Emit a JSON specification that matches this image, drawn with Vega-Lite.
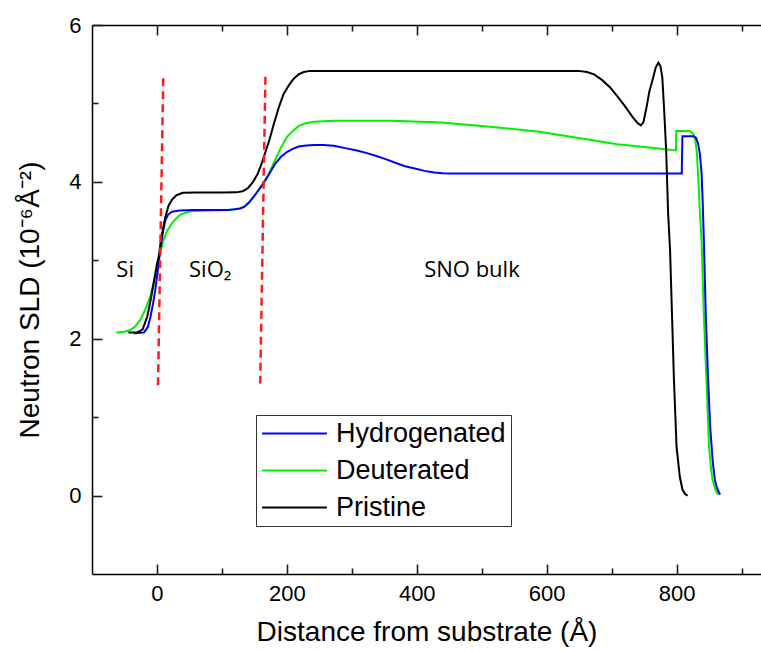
{
  "$schema": "https://vega.github.io/schema/vega-lite/v6.json",
  "width": 669,
  "height": 549,
  "autosize": {"type": "none"},
  "padding": {"left": 92, "top": 25, "right": 0, "bottom": 77},
  "config": {"view": {"stroke": null}, "font": "Liberation Sans", "background": "white",
    "axis": {"grid": false, "tickColor": "#1c1c1c", "tickWidth": 1.6, "domainColor": "#000000", "domainWidth": 1.5}},
  "datasets": {
    "sld": [
      {"series": "Pristine", "x": -44, "y": 2.08}, {"series": "Pristine", "x": -30, "y": 2.08}, {"series": "Pristine", "x": -22, "y": 2.12}, {"series": "Pristine", "x": -15, "y": 2.28}, {"series": "Pristine", "x": -10, "y": 2.48}, {"series": "Pristine", "x": -5, "y": 2.71}, {"series": "Pristine", "x": 0, "y": 2.95}, {"series": "Pristine", "x": 2.5, "y": 3.04}, {"series": "Pristine", "x": 7, "y": 3.3}, {"series": "Pristine", "x": 12.8, "y": 3.55}, {"series": "Pristine", "x": 18, "y": 3.7}, {"series": "Pristine", "x": 23, "y": 3.77}, {"series": "Pristine", "x": 30, "y": 3.83}, {"series": "Pristine", "x": 40, "y": 3.86}, {"series": "Pristine", "x": 60, "y": 3.865}, {"series": "Pristine", "x": 100, "y": 3.865}, {"series": "Pristine", "x": 122, "y": 3.866}, {"series": "Pristine", "x": 132, "y": 3.88}, {"series": "Pristine", "x": 140, "y": 3.92}, {"series": "Pristine", "x": 148, "y": 4.0}, {"series": "Pristine", "x": 155, "y": 4.1}, {"series": "Pristine", "x": 161, "y": 4.23}, {"series": "Pristine", "x": 167, "y": 4.38}, {"series": "Pristine", "x": 173, "y": 4.53}, {"series": "Pristine", "x": 180, "y": 4.74}, {"series": "Pristine", "x": 188, "y": 4.96}, {"series": "Pristine", "x": 195, "y": 5.12}, {"series": "Pristine", "x": 203, "y": 5.23}, {"series": "Pristine", "x": 210, "y": 5.31}, {"series": "Pristine", "x": 218, "y": 5.37}, {"series": "Pristine", "x": 226, "y": 5.4}, {"series": "Pristine", "x": 236, "y": 5.415}, {"series": "Pristine", "x": 400, "y": 5.415}, {"series": "Pristine", "x": 649, "y": 5.415}, {"series": "Pristine", "x": 662, "y": 5.4}, {"series": "Pristine", "x": 673, "y": 5.37}, {"series": "Pristine", "x": 685, "y": 5.3}, {"series": "Pristine", "x": 697, "y": 5.21}, {"series": "Pristine", "x": 709, "y": 5.09}, {"series": "Pristine", "x": 721, "y": 4.96}, {"series": "Pristine", "x": 733, "y": 4.82}, {"series": "Pristine", "x": 740, "y": 4.75}, {"series": "Pristine", "x": 745, "y": 4.72}, {"series": "Pristine", "x": 749, "y": 4.76}, {"series": "Pristine", "x": 754, "y": 4.96}, {"series": "Pristine", "x": 758, "y": 5.15}, {"series": "Pristine", "x": 763, "y": 5.3}, {"series": "Pristine", "x": 768, "y": 5.46}, {"series": "Pristine", "x": 772, "y": 5.52}, {"series": "Pristine", "x": 775, "y": 5.48}, {"series": "Pristine", "x": 778, "y": 5.34}, {"series": "Pristine", "x": 781, "y": 4.9}, {"series": "Pristine", "x": 784, "y": 4.4}, {"series": "Pristine", "x": 787, "y": 3.6}, {"series": "Pristine", "x": 790, "y": 3.13}, {"series": "Pristine", "x": 793, "y": 2.3}, {"series": "Pristine", "x": 796, "y": 1.47}, {"series": "Pristine", "x": 800, "y": 0.62}, {"series": "Pristine", "x": 805, "y": 0.24}, {"series": "Pristine", "x": 809, "y": 0.08}, {"series": "Pristine", "x": 813, "y": 0.02}, {"series": "Pristine", "x": 817, "y": 0.0},
      {"series": "Deuterated", "x": -62.6, "y": 2.08}, {"series": "Deuterated", "x": -50, "y": 2.09}, {"series": "Deuterated", "x": -41, "y": 2.11}, {"series": "Deuterated", "x": -33, "y": 2.16}, {"series": "Deuterated", "x": -25.7, "y": 2.24}, {"series": "Deuterated", "x": -18, "y": 2.37}, {"series": "Deuterated", "x": -10.3, "y": 2.54}, {"series": "Deuterated", "x": -5, "y": 2.72}, {"series": "Deuterated", "x": 0, "y": 2.92}, {"series": "Deuterated", "x": 5, "y": 3.1}, {"series": "Deuterated", "x": 10.3, "y": 3.26}, {"series": "Deuterated", "x": 16, "y": 3.38}, {"series": "Deuterated", "x": 23, "y": 3.47}, {"series": "Deuterated", "x": 29, "y": 3.53}, {"series": "Deuterated", "x": 35.8, "y": 3.58}, {"series": "Deuterated", "x": 45, "y": 3.61}, {"series": "Deuterated", "x": 56, "y": 3.63}, {"series": "Deuterated", "x": 80, "y": 3.636}, {"series": "Deuterated", "x": 110, "y": 3.64}, {"series": "Deuterated", "x": 120, "y": 3.65}, {"series": "Deuterated", "x": 128, "y": 3.66}, {"series": "Deuterated", "x": 134, "y": 3.68}, {"series": "Deuterated", "x": 141, "y": 3.73}, {"series": "Deuterated", "x": 149, "y": 3.81}, {"series": "Deuterated", "x": 156, "y": 3.89}, {"series": "Deuterated", "x": 164, "y": 3.99}, {"series": "Deuterated", "x": 172, "y": 4.1}, {"series": "Deuterated", "x": 182, "y": 4.28}, {"series": "Deuterated", "x": 191, "y": 4.44}, {"series": "Deuterated", "x": 200, "y": 4.57}, {"series": "Deuterated", "x": 209, "y": 4.65}, {"series": "Deuterated", "x": 218, "y": 4.71}, {"series": "Deuterated", "x": 230, "y": 4.75}, {"series": "Deuterated", "x": 242, "y": 4.765}, {"series": "Deuterated", "x": 272, "y": 4.78}, {"series": "Deuterated", "x": 360, "y": 4.78}, {"series": "Deuterated", "x": 439, "y": 4.757}, {"series": "Deuterated", "x": 529, "y": 4.69}, {"series": "Deuterated", "x": 589, "y": 4.64}, {"series": "Deuterated", "x": 649, "y": 4.56}, {"series": "Deuterated", "x": 709, "y": 4.48}, {"series": "Deuterated", "x": 769, "y": 4.43}, {"series": "Deuterated", "x": 799, "y": 4.4}, {"series": "Deuterated", "x": 799.5, "y": 4.65}, {"series": "Deuterated", "x": 820, "y": 4.65}, {"series": "Deuterated", "x": 825, "y": 4.62}, {"series": "Deuterated", "x": 828, "y": 4.57}, {"series": "Deuterated", "x": 831, "y": 4.4}, {"series": "Deuterated", "x": 833, "y": 4.11}, {"series": "Deuterated", "x": 836, "y": 3.6}, {"series": "Deuterated", "x": 838.5, "y": 3.26}, {"series": "Deuterated", "x": 842, "y": 2.3}, {"series": "Deuterated", "x": 846, "y": 1.47}, {"series": "Deuterated", "x": 850, "y": 0.62}, {"series": "Deuterated", "x": 853, "y": 0.35}, {"series": "Deuterated", "x": 855.4, "y": 0.2}, {"series": "Deuterated", "x": 860, "y": 0.07}, {"series": "Deuterated", "x": 864, "y": 0.01},
      {"series": "Hydrogenated", "x": -36, "y": 2.07}, {"series": "Hydrogenated", "x": -20, "y": 2.08}, {"series": "Hydrogenated", "x": -14, "y": 2.15}, {"series": "Hydrogenated", "x": -10, "y": 2.28}, {"series": "Hydrogenated", "x": -6, "y": 2.45}, {"series": "Hydrogenated", "x": -2.6, "y": 2.62}, {"series": "Hydrogenated", "x": 1, "y": 2.85}, {"series": "Hydrogenated", "x": 5, "y": 3.13}, {"series": "Hydrogenated", "x": 9, "y": 3.35}, {"series": "Hydrogenated", "x": 12.8, "y": 3.51}, {"series": "Hydrogenated", "x": 17, "y": 3.58}, {"series": "Hydrogenated", "x": 23, "y": 3.62}, {"series": "Hydrogenated", "x": 35, "y": 3.635}, {"series": "Hydrogenated", "x": 54, "y": 3.64}, {"series": "Hydrogenated", "x": 110, "y": 3.64}, {"series": "Hydrogenated", "x": 120, "y": 3.65}, {"series": "Hydrogenated", "x": 128, "y": 3.66}, {"series": "Hydrogenated", "x": 134, "y": 3.68}, {"series": "Hydrogenated", "x": 141, "y": 3.73}, {"series": "Hydrogenated", "x": 149, "y": 3.81}, {"series": "Hydrogenated", "x": 156, "y": 3.89}, {"series": "Hydrogenated", "x": 164, "y": 3.98}, {"series": "Hydrogenated", "x": 172, "y": 4.09}, {"series": "Hydrogenated", "x": 182, "y": 4.23}, {"series": "Hydrogenated", "x": 191, "y": 4.32}, {"series": "Hydrogenated", "x": 200, "y": 4.38}, {"series": "Hydrogenated", "x": 209, "y": 4.42}, {"series": "Hydrogenated", "x": 218, "y": 4.45}, {"series": "Hydrogenated", "x": 230, "y": 4.465}, {"series": "Hydrogenated", "x": 242, "y": 4.47}, {"series": "Hydrogenated", "x": 256, "y": 4.47}, {"series": "Hydrogenated", "x": 272, "y": 4.46}, {"series": "Hydrogenated", "x": 290, "y": 4.43}, {"series": "Hydrogenated", "x": 308, "y": 4.4}, {"series": "Hydrogenated", "x": 322, "y": 4.37}, {"series": "Hydrogenated", "x": 338, "y": 4.33}, {"series": "Hydrogenated", "x": 352, "y": 4.29}, {"series": "Hydrogenated", "x": 368, "y": 4.24}, {"series": "Hydrogenated", "x": 382, "y": 4.2}, {"series": "Hydrogenated", "x": 397, "y": 4.17}, {"series": "Hydrogenated", "x": 412, "y": 4.14}, {"series": "Hydrogenated", "x": 427, "y": 4.12}, {"series": "Hydrogenated", "x": 440, "y": 4.11}, {"series": "Hydrogenated", "x": 451, "y": 4.107}, {"series": "Hydrogenated", "x": 600, "y": 4.107}, {"series": "Hydrogenated", "x": 808, "y": 4.107}, {"series": "Hydrogenated", "x": 809, "y": 4.58}, {"series": "Hydrogenated", "x": 826, "y": 4.58}, {"series": "Hydrogenated", "x": 830, "y": 4.56}, {"series": "Hydrogenated", "x": 833, "y": 4.49}, {"series": "Hydrogenated", "x": 836, "y": 4.35}, {"series": "Hydrogenated", "x": 838.5, "y": 4.11}, {"series": "Hydrogenated", "x": 840, "y": 3.8}, {"series": "Hydrogenated", "x": 842, "y": 3.26}, {"series": "Hydrogenated", "x": 845, "y": 2.3}, {"series": "Hydrogenated", "x": 848.6, "y": 1.47}, {"series": "Hydrogenated", "x": 852, "y": 0.84}, {"series": "Hydrogenated", "x": 856, "y": 0.41}, {"series": "Hydrogenated", "x": 859, "y": 0.2}, {"series": "Hydrogenated", "x": 862, "y": 0.1}, {"series": "Hydrogenated", "x": 867, "y": 0.01}
    ],
    "guides": [
      {"line": "a", "x": 9.7, "y": 5.32}, {"line": "a", "x": 1.5, "y": 1.35},
      {"line": "b", "x": 167, "y": 5.34}, {"line": "b", "x": 159, "y": 1.43}
    ],
    "notes": [
      {"x": -49, "y": 2.87, "text": "Si"},
      {"x": 82, "y": 2.87, "text": "SiO₂"},
      {"x": 485, "y": 2.87, "text": "SNO bulk"}
    ]
  },
  "layer": [
    {
      "data": {"name": "sld"},
      "transform": [{"filter": "datum.series === 'Deuterated'"}],
      "mark": {"type": "line", "strokeWidth": 2},
      "encoding": {
        "x": {
          "field": "x", "type": "quantitative",
          "scale": {"domain": [-100, 930], "nice": false, "zero": false},
          "axis": {
            "orient": "bottom", "values": [0, 200, 400, 600, 800], "format": "d", "ticks": false,
            "labelFontSize": 22, "labelColor": "#000000", "labelPadding": 9, "labelFont": "Liberation Sans",
            "title": "Distance from substrate (Å)", "titleFontSize": 28, "titleFontWeight": "normal",
            "titleColor": "#000000", "titleFont": "Liberation Sans", "titlePadding": 14
          }
        },
        "y": {
          "field": "y", "type": "quantitative",
          "scale": {"domain": [-1, 6], "nice": false, "zero": false},
          "axis": {
            "orient": "left", "values": [0, 2, 4, 6], "format": "d", "ticks": false,
            "labelFontSize": 22, "labelColor": "#000000", "labelPadding": 11, "labelFont": "Liberation Sans",
            "title": "Neutron SLD (10⁻⁶Å⁻²)", "titleFontSize": 28, "titleFontWeight": "normal",
            "titleColor": "#000000", "titleFont": "Liberation Sans", "titlePadding": 24
          }
        },
        "color": {
          "field": "series", "type": "nominal",
          "scale": {"domain": ["Hydrogenated", "Deuterated", "Pristine"], "range": ["#0000ff", "#00f000", "#000000"]},
          "legend": {
            "orient": "none", "legendX": 164, "legendY": 390, "title": null,
            "symbolType": "stroke", "symbolSize": 4200, "symbolStrokeWidth": 2, "clipHeight": 27,
            "labelFontSize": 27, "labelFont": "Liberation Sans", "labelColor": "#000000", "labelOffset": 8, "labelLimit": 0,
            "strokeColor": "#333333", "fillColor": "white", "padding": 5, "rowPadding": 9
          }
        },
        "order": {"value": null}
      }
    },
    {
      "data": {"name": "sld"},
      "transform": [{"filter": "datum.series === 'Hydrogenated'"}],
      "mark": {"type": "line", "strokeWidth": 2},
      "encoding": {
        "x": {
          "field": "x", "type": "quantitative",
          "scale": {"domain": [-100, 930], "nice": false, "zero": false},
          "axis": {"orient": "bottom", "values": [0, 200, 400, 600, 800], "labels": false, "domain": false, "title": null, "tickSize": 10, "offset": -10, "tickColor": "#1c1c1c"}
        },
        "y": {
          "field": "y", "type": "quantitative",
          "scale": {"domain": [-1, 6], "nice": false, "zero": false},
          "axis": {"orient": "left", "values": [0, 2, 4, 6], "labels": false, "domain": false, "title": null, "tickSize": 10, "offset": -10, "tickColor": "#1c1c1c"}
        },
        "color": {"field": "series", "type": "nominal"},
        "order": {"value": null}
      }
    },
    {
      "data": {"name": "sld"},
      "transform": [{"filter": "datum.series === 'Pristine'"}],
      "mark": {"type": "line", "strokeWidth": 2},
      "encoding": {
        "x": {
          "field": "x", "type": "quantitative",
          "scale": {"domain": [-100, 930], "nice": false, "zero": false},
          "axis": {"orient": "bottom", "values": [100, 300, 500, 700, 900], "labels": false, "domain": false, "title": null, "tickSize": 6, "offset": -6, "tickColor": "#1c1c1c"}
        },
        "y": {
          "field": "y", "type": "quantitative",
          "scale": {"domain": [-1, 6], "nice": false, "zero": false},
          "axis": {"orient": "left", "values": [1, 3, 5], "labels": false, "domain": false, "title": null, "tickSize": 6, "offset": -6, "tickColor": "#1c1c1c"}
        },
        "color": {"field": "series", "type": "nominal"},
        "order": {"value": null}
      }
    },
    {
      "data": {"name": "guides"},
      "transform": [{"filter": "datum.line === 'a'"}],
      "mark": {"type": "line", "color": "#ff1a1a", "strokeDash": [8, 5], "strokeWidth": 2.5},
      "encoding": {
        "x": {
          "field": "x", "type": "quantitative",
          "scale": {"domain": [-100, 930], "nice": false, "zero": false},
          "axis": {"orient": "top", "labels": false, "ticks": false, "title": null, "domain": true}
        },
        "y": {"field": "y", "type": "quantitative", "scale": {"domain": [-1, 6], "nice": false, "zero": false}, "axis": null},
        "order": {"value": null}
      }
    },
    {
      "data": {"name": "guides"},
      "transform": [{"filter": "datum.line === 'b'"}],
      "mark": {"type": "line", "color": "#ff1a1a", "strokeDash": [8, 5], "strokeWidth": 2.5},
      "encoding": {
        "x": {
          "field": "x", "type": "quantitative",
          "scale": {"domain": [-100, 930], "nice": false, "zero": false},
          "axis": {"orient": "top", "values": [0, 200, 400, 600, 800], "labels": false, "domain": false, "title": null, "tickSize": 10, "offset": -10, "tickColor": "#1c1c1c"}
        },
        "y": {"field": "y", "type": "quantitative", "scale": {"domain": [-1, 6], "nice": false, "zero": false}, "axis": null},
        "order": {"value": null}
      }
    },
    {
      "data": {"name": "notes"},
      "mark": {"type": "text", "font": "Open Sans", "fontSize": 22, "color": "#000000"},
      "encoding": {
        "x": {
          "field": "x", "type": "quantitative",
          "scale": {"domain": [-100, 930], "nice": false, "zero": false},
          "axis": {"orient": "top", "values": [100, 300, 500, 700, 900], "labels": false, "domain": false, "title": null, "tickSize": 6, "offset": -6, "tickColor": "#1c1c1c"}
        },
        "y": {"field": "y", "type": "quantitative", "scale": {"domain": [-1, 6], "nice": false, "zero": false}, "axis": null},
        "text": {"field": "text"}
      }
    }
  ],
  "resolve": {"axis": {"x": "independent", "y": "independent"}}
}
